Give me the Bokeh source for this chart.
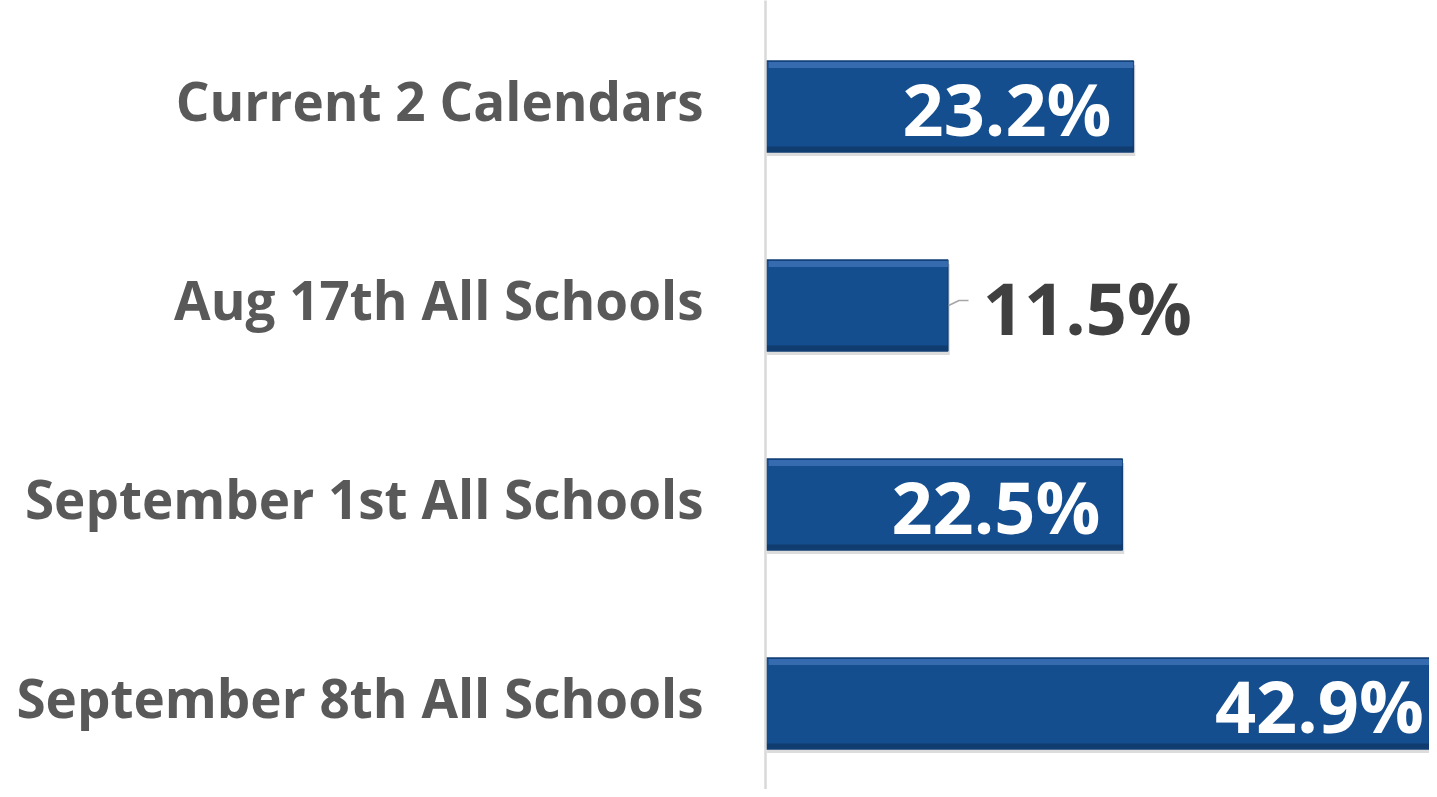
from bokeh.plotting import figure
from bokeh.models import Range1d, ColumnDataSource, FixedTicker
from bokeh.embed import file_html
from bokeh.resources import INLINE
from bokeh.core.properties import value

categories = ["Current 2 Calendars", "Aug 17th All Schools",
              "September 1st All Schools", "September 8th All Schools"]
values = [23.2, 11.5, 22.5, 42.9]
labels = ["23.2%", "11.5%", "22.5%", "42.9%"]

n = len(categories)
idx = list(range(n))
PX = 1.0 / 199.0   # one pixel in y data units
BAR_H = 0.457

W, H = 1429, 789
p = figure(width=W, height=H, output_backend="svg", toolbar_location=None,
           x_range=Range1d(0, 41.87), y_range=Range1d(3.432, -0.5327),
           min_border_left=765, min_border_right=0, min_border_top=0,
           min_border_bottom=0, background_fill_color="white",
           border_fill_color="white")
p.outline_line_color = None
p.xgrid.visible = False
p.ygrid.visible = False
p.xaxis.visible = False

# category labels, nudged slightly above the bar centres
LAB_SHIFT = -6 * PX
tick_pos = [round(i + LAB_SHIFT, 6) for i in idx]
ya = p.yaxis[0]
ya.ticker = FixedTicker(ticks=tick_pos)
ya.major_label_overrides = {t: c for t, c in zip(tick_pos, categories)}
ya.major_label_text_font = "Open Sans"
ya.major_label_text_font_style = "bold"
ya.major_label_text_font_size = "53px"
ya.major_label_text_color = "#595959"
ya.major_tick_line_color = None
ya.minor_tick_line_color = None
ya.major_tick_out = 0
ya.major_label_standoff = 62
ya.axis_line_color = "#D9D9D9"
ya.axis_line_width = 2.5

src = ColumnDataSource(dict(
    y=idx, v=values, lab=labels,
    ys=[i + 4 * PX for i in idx],
    vs=[v + 0.12 for v in values],
    ytop=[i - BAR_H / 2 + 4 * PX for i in idx],
    ybot=[i + BAR_H / 2 - 3 * PX for i in idx],
))

# shadow
p.hbar(y="ys", left=0.1, right="vs", height=BAR_H, source=src,
       fill_color="#9A9A9A", fill_alpha=0.35, line_color=None)
# main bar
p.hbar(y="y", left=0.05, right="v", height=BAR_H, source=src,
       fill_color="#154E8F", line_color="#123F75", line_width=1.5)
# bevel highlight and dark bottom edge
p.hbar(y="ytop", left=0.2, right="v", height=6 * PX, source=src,
       fill_color="#3F74B6", fill_alpha=0.8, line_color=None)
p.hbar(y="ybot", left=0.05, right="v", height=5 * PX, source=src,
       fill_color="#0F3868", fill_alpha=0.8, line_color=None)

inside = [i for i in idx if values[i] >= 15]
outside = [i for i in idx if values[i] < 15]

isrc = ColumnDataSource(dict(x=[values[i] for i in inside],
                             y=[idx[i] for i in inside],
                             t=[labels[i] for i in inside]))
p.text(x="x", y="y", text="t", source=isrc, x_offset=-22, y_offset=1,
       text_align="right", text_baseline="middle",
       text_font=value("Open Sans"), text_font_style="bold",
       text_font_size="72px", text_color="white")

osrc = ColumnDataSource(dict(x=[values[i] for i in outside],
                             y=[idx[i] for i in outside],
                             t=[labels[i] for i in outside]))
p.text(x="x", y="y", text="t", source=osrc, x_offset=35, y_offset=1,
       text_align="left", text_baseline="middle",
       text_font=value("Open Sans"), text_font_style="bold",
       text_font_size="72px", text_color="#404040")
for i in outside:
    v = values[i]
    p.line(x=[v + 0.05, v + 0.7, v + 1.3], y=[i, i - 5 * PX, i - 5 * PX],
           line_color="#A6A6A6", line_width=1.5)

open("out.html", "w").write(file_html(p, INLINE))
